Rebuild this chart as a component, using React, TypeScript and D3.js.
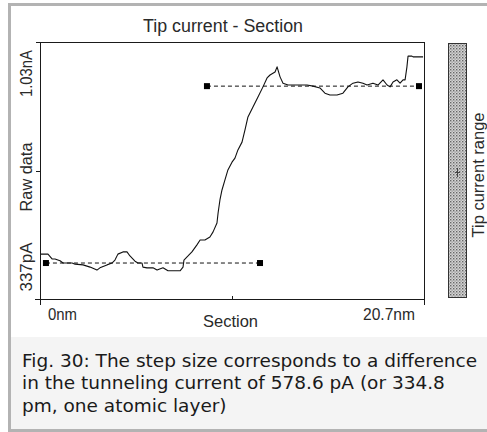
import React from 'react';
import * as d3 from 'd3';

// Section position (nm) and raw tip current (pA)
const sectionNm = [0.04, 0.43, 0.65, 0.81, 1.08, 1.24, 1.73, 1.89, 2.32, 2.70, 3.07, 3.23, 3.61, 3.88, 4.04, 4.20, 4.47, 4.69, 4.85, 5.12, 5.28, 5.50, 5.55, 5.77, 6.09, 6.31, 6.63, 6.90, 7.17, 7.55, 7.71, 7.76, 7.98, 8.19, 8.46, 8.63, 8.89, 9.16, 9.33, 9.54, 9.60, 9.70, 9.81, 9.97, 10.13, 10.35, 10.51, 10.67, 10.89, 11.05, 11.21, 11.48, 11.75, 12.02, 12.24, 12.40, 12.67, 12.78, 12.94, 13.10, 13.37, 13.85, 14.39, 14.72, 15.09, 15.36, 15.63, 16.01, 16.33, 16.60, 16.87, 17.14, 17.41, 17.63, 17.95, 18.22, 18.49, 18.71, 18.87, 19.03, 19.24, 19.41, 19.57, 19.68, 19.78, 19.84, 20.05, 20.11, 20.65];
const currentPA = [458, 458, 445, 445, 440, 434, 434, 431, 429, 423, 415, 421, 429, 434, 442, 458, 464, 464, 453, 439, 434, 434, 423, 421, 421, 415, 421, 413, 413, 413, 423, 442, 453, 464, 483, 496, 496, 504, 518, 542, 569, 604, 631, 658, 685, 706, 717, 739, 760, 793, 828, 855, 882, 909, 933, 941, 949, 963, 936, 919, 914, 914, 914, 911, 906, 892, 887, 887, 892, 909, 919, 922, 919, 914, 919, 914, 928, 914, 909, 922, 928, 919, 928, 928, 963, 992, 992, 990, 990];

// Fitted step levels (dashed lines)
const fitLevelsPA = [434, 911];
const fitStartNm = [0.32, 9.0];
const fitEndNm = [11.86, 20.43];

const xDomainNm = [0, 20.7];
const yDomainPA = [337, 1030];
const xTickLabels = ['0nm', 'Section', '20.7nm'];
const yTickLabels = ['337pA', 'Raw data', '1.03nA'];
const chartTitle = 'Tip current - Section';
const colorbarLabel = 'Tip current range';
const captionLines = [
  'Fig. 30: The step size corresponds to a difference',
  'in the tunneling current of 578.6 pA (or 334.8',
  'pm, one atomic layer)',
];

const W = 487;
const H = 432;
const plot = { left: 40, right: 424, top: 42, bottom: 299 };
const chartFont = '"Liberation Sans", Arial, sans-serif';
const textColor = '#2a2a2a';

export default function App() {
  const x = d3.scaleLinear().domain(xDomainNm).range([plot.left, plot.right]);
  const y = d3.scaleLinear().domain(yDomainPA).range([plot.bottom, plot.top]);
  const pts: [number, number][] = sectionNm.map((v, i) => [v, currentPA[i]]);
  const line = d3
    .line<[number, number]>()
    .x((d) => x(d[0]))
    .y((d) => y(d[1]))
    .curve(d3.curveLinear);

  const midY = (plot.top + plot.bottom) / 2 + 0.5;
  const midX = (plot.left + plot.right) / 2;

  return (
    <svg
      width={W}
      height={H}
      style={{ position: 'absolute', left: 0, top: 0, display: 'block' }}
      xmlns="http://www.w3.org/2000/svg"
    >
      <defs>
        <pattern id="stipple" width="3" height="3" patternUnits="userSpaceOnUse">
          <rect width="3" height="3" fill="#d4d4d4" />
          <rect x="0" y="0" width="1.4" height="1.4" fill="#666" />
          <rect x="1.5" y="1.5" width="1.2" height="1.2" fill="#888" />
        </pattern>
      </defs>
      {/* outer frame */}
      <rect x={0} y={0} width={W} height={H} fill="#ffffff" />
      <rect x={8} y={3} width={W - 8} height={H - 3} fill="#b3b3b3" />
      <rect x={11} y={6} width={W - 11} height={H - 9} fill="#f4f4f4" />
      <rect x={11} y={6} width={W - 11} height={331} fill="#ffffff" />

      {/* title */}
      <text
        x={223}
        y={32}
        textAnchor="middle"
        fontFamily={chartFont}
        fontSize={18}
        fill={textColor}
        textLength={160}
        lengthAdjust="spacingAndGlyphs"
      >
        {chartTitle}
      </text>

      {/* plot box */}
      <rect
        x={plot.left}
        y={plot.top}
        width={plot.right - plot.left}
        height={plot.bottom - plot.top}
        fill="none"
        stroke="#1a1a1a"
        strokeWidth={1}
        shapeRendering="crispEdges"
      />
      {/* axis ticks */}
      <g stroke="#1a1a1a" strokeWidth={1} shapeRendering="crispEdges">
        <line x1={36} x2={plot.left} y1={plot.top} y2={plot.top} />
        <line x1={36} x2={plot.left} y1={midY} y2={midY} />
        <line x1={35} x2={plot.left} y1={plot.bottom} y2={plot.bottom} />
        <line x1={plot.left} x2={plot.left} y1={plot.bottom} y2={305} />
        <line x1={plot.right} x2={plot.right} y1={plot.bottom} y2={305} />
        <line x1={midX} x2={midX} y1={plot.bottom} y2={plot.bottom - 3} />
      </g>

      {/* y labels (rotated) */}
      {[
        { t: yTickLabels[2], cy: 73.5, len: 47 },
        { t: yTickLabels[1], cy: 177, len: 69 },
        { t: yTickLabels[0], cy: 267, len: 49 },
      ].map((l) => (
        <text
          key={l.t}
          transform={`translate(32,${l.cy}) rotate(-90)`}
          textAnchor="middle"
          fontFamily={chartFont}
          fontSize={17}
          fill={textColor}
          textLength={l.len}
          lengthAdjust="spacingAndGlyphs"
        >
          {l.t}
        </text>
      ))}

      {/* x labels */}
      <text x={48} y={320} fontFamily={chartFont} fontSize={17} fill={textColor} textLength={29} lengthAdjust="spacingAndGlyphs">
        {xTickLabels[0]}
      </text>
      <text x={203} y={327} fontFamily={chartFont} fontSize={17} fill={textColor} textLength={55} lengthAdjust="spacingAndGlyphs">
        {xTickLabels[1]}
      </text>
      <text x={363} y={320} fontFamily={chartFont} fontSize={17} fill={textColor} textLength={52} lengthAdjust="spacingAndGlyphs">
        {xTickLabels[2]}
      </text>

      {/* fitted levels */}
      {fitLevelsPA.map((lv, i) => (
        <g key={i}>
          <line
            x1={x(fitStartNm[i])}
            x2={x(fitEndNm[i])}
            y1={y(lv)}
            y2={y(lv)}
            stroke="#111"
            strokeWidth={1}
            strokeDasharray="4,3"
          />
          <rect x={x(fitStartNm[i]) - 3} y={y(lv) - 3} width={6} height={6} fill="#000" />
          <rect x={x(fitEndNm[i]) - 3} y={y(lv) - 3} width={6} height={6} fill="#000" />
        </g>
      ))}

      {/* raw data */}
      <path d={line(pts) || ''} fill="none" stroke="#111" strokeWidth={1.1} strokeLinejoin="round" />

      {/* colour bar */}
      <rect x={448.5} y={43.5} width={18} height={254} fill="url(#stipple)" stroke="#333" strokeWidth={1} />
      <g stroke="#444" strokeWidth={1}>
        <line x1={457.5} x2={457.5} y1={168} y2={177} />
        <line x1={455} x2={460} y1={172.5} y2={172.5} />
      </g>
      <text
        transform={`translate(484,175) rotate(-90)`}
        textAnchor="middle"
        fontFamily={chartFont}
        fontSize={16}
        fill={textColor}
        textLength={125}
        lengthAdjust="spacingAndGlyphs"
      >
        {colorbarLabel}
      </text>

      {/* caption */}
      {captionLines.map((c, i) => (
        <text
          key={i}
          x={22}
          y={366.5 + i * 22.5}
          fontFamily='"DejaVu Sans", Verdana, sans-serif'
          fontSize={18.5}
          fill="#1a1a1a"
        >
          {c}
        </text>
      ))}
    </svg>
  );
}
